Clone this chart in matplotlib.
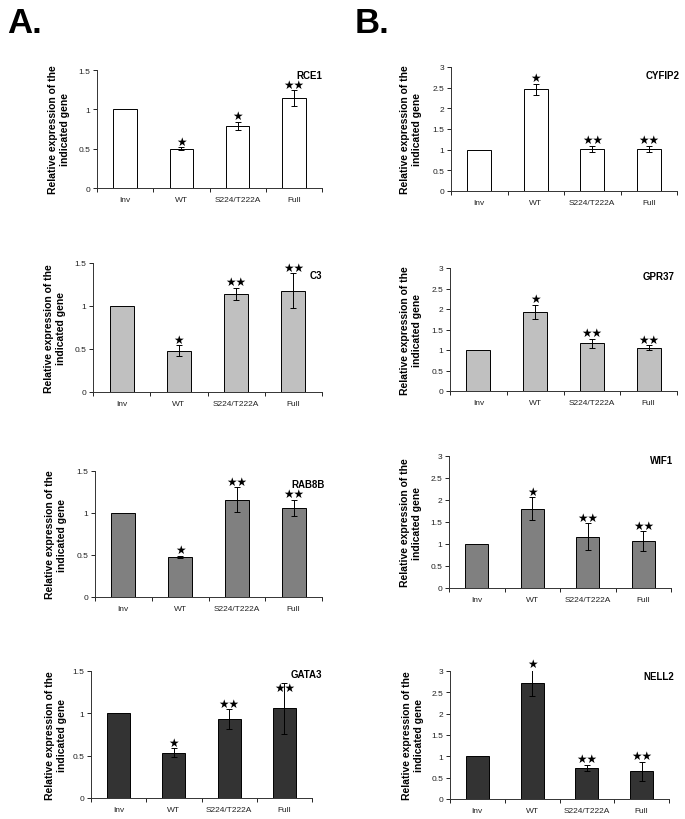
import matplotlib
matplotlib.use("Agg")
import matplotlib.pyplot as plt
from matplotlib.ticker import FixedLocator

plt.rcParams['font.family'] = ['Liberation Sans', 'DejaVu Sans']

categories = ["Inv", "WT", "S224/T222A", "Full"]

genes = ["RCE1", "C3", "RAB8B", "GATA3", "CYFIP2", "GPR37", "WIF1", "NELL2"]

rce1_vals = [1.0, 0.50, 0.79, 1.14]
rce1_err = [0, 0.02, 0.05, 0.10]
rce1_stars = [0, 1, 1, 2]
rce1_star_y = [None, None, None, None]

c3_vals = [1.0, 0.48, 1.14, 1.18]
c3_err = [0, 0.065, 0.07, 0.20]
c3_stars = [0, 1, 2, 2]
c3_star_y = [None, None, None, None]

rab8b_vals = [1.0, 0.48, 1.16, 1.06]
rab8b_err = [0, 0.01, 0.145, 0.10]
rab8b_stars = [0, 1, 2, 2]
rab8b_star_y = [None, None, None, None]

gata3_vals = [1.0, 0.535, 0.93, 1.06]
gata3_err = [0, 0.055, 0.12, 0.30]
gata3_stars = [0, 1, 2, 2]
gata3_star_y = [None, None, None, 1.23]

cyfip2_vals = [1.0, 2.46, 1.02, 1.02]
cyfip2_err = [0, 0.13, 0.08, 0.08]
cyfip2_stars = [0, 1, 2, 2]
cyfip2_star_y = [None, None, None, None]

gpr37_vals = [1.0, 1.93, 1.16, 1.06]
gpr37_err = [0, 0.17, 0.12, 0.06]
gpr37_stars = [0, 1, 2, 2]
gpr37_star_y = [None, None, None, None]

wif1_vals = [1.0, 1.80, 1.17, 1.07]
wif1_err = [0, 0.26, 0.30, 0.22]
wif1_stars = [0, 1, 2, 2]
wif1_star_y = [None, None, None, None]

nell2_vals = [1.0, 2.73, 0.73, 0.65]
nell2_err = [0, 0.31, 0.07, 0.22]
nell2_stars = [0, 1, 2, 2]
nell2_star_y = [None, None, None, None]

yticks_a = [0, 0.5, 1, 1.5]
yticklabels_a = ["0", "0.5", "1", "1.5"]
yticks_b = [0, 0.5, 1, 1.5, 2, 2.5, 3]
yticklabels_b = ["0", "0.5", "1", "1.5", "2", "2.5", "3"]

ylabel_text = "Relative expression of the\nindicated gene"

W, H = 685, 820
fig = plt.figure(figsize=(W / 100, H / 100), dpi=100)

row_colors = ["#ffffff", "#c0c0c0", "#808080", "#333333"]

panels = [
    ("RCE1", rce1_vals, rce1_err, rce1_stars, rce1_star_y, yticks_a, yticklabels_a, (97, 322, 71, 189), (309, 76), 59, row_colors[0]),
    ("C3", c3_vals, c3_err, c3_stars, c3_star_y, yticks_a, yticklabels_a, (93, 322, 264, 393), (316, 276), 55, row_colors[1]),
    ("RAB8B", rab8b_vals, rab8b_err, rab8b_stars, rab8b_star_y, yticks_a, yticklabels_a, (95, 322, 472, 598), (308, 485), 56, row_colors[2]),
    ("GATA3", gata3_vals, gata3_err, gata3_stars, gata3_star_y, yticks_a, yticklabels_a, (91, 312, 672, 799), (306, 675), 56, row_colors[3]),
    ("CYFIP2", cyfip2_vals, cyfip2_err, cyfip2_stars, cyfip2_star_y, yticks_b, yticklabels_b, (451, 677, 68, 192), (663, 76), 411, row_colors[0]),
    ("GPR37", gpr37_vals, gpr37_err, gpr37_stars, gpr37_star_y, yticks_b, yticklabels_b, (450, 677, 269, 392), (659, 277), 411, row_colors[1]),
    ("WIF1", wif1_vals, wif1_err, wif1_stars, wif1_star_y, yticks_b, yticklabels_b, (449, 671, 457, 589), (662, 461), 411, row_colors[2]),
    ("NELL2", nell2_vals, nell2_err, nell2_stars, nell2_star_y, yticks_b, yticklabels_b, (450, 669, 672, 800), (659, 677), 413, row_colors[3]),
]

for gene, vals, err, stars, star_y, ticks, tlabels, box, glab, ylx, color in panels:
    x0, x1, y0, y1 = box
    ax = fig.add_axes([x0 / W, 1 - y1 / H, (x1 - x0) / W, (y1 - y0) / H])
    xs = list(range(len(categories)))
    ax.bar(xs, vals, width=0.42, color=color, edgecolor="black", linewidth=0.7, zorder=2)
    for xi, v, e, s, sy in zip(xs, vals, err, stars, star_y):
        if e > 0:
            ax.errorbar(xi, v, yerr=e, fmt="none", ecolor="black", elinewidth=0.7,
                        capsize=2.5, capthick=0.7, zorder=3)
        if s > 0:
            base = v + e if sy is None else sy
            ax.annotate("★" * s, xy=(xi, base), xytext=(0, -0.3), textcoords="offset points",
                        ha="center", va="bottom", fontsize=8.5,
                        family=["DejaVu Sans"], zorder=4, annotation_clip=False)
    ax.set_xlim(-0.5, len(categories) - 0.5)
    ax.set_ylim(ticks[0], ticks[-1])
    ax.yaxis.set_major_locator(FixedLocator(ticks))
    ax.set_yticklabels(tlabels, fontsize=6, color="#222222")
    ax.xaxis.set_major_locator(FixedLocator([i - 0.5 for i in range(len(categories) + 1)]))
    ax.xaxis.set_minor_locator(FixedLocator(xs))
    ax.set_xticklabels([])
    ax.set_xticklabels(categories, minor=True, fontsize=6, color="#222222")
    ax.tick_params(axis="x", which="minor", length=0, pad=6)
    ax.tick_params(axis="x", which="major", length=3, width=0.6, direction="out")
    ax.tick_params(axis="y", length=3, width=0.6, direction="out", pad=2)
    for sp in ["top", "right"]:
        ax.spines[sp].set_visible(False)
    for sp in ["left", "bottom"]:
        ax.spines[sp].set_linewidth(0.7)
        ax.spines[sp].set_color("#333333")
    ax.set_facecolor("none")
    fig.text(glab[0] / W, 1 - glab[1] / H, gene, ha="center", va="center",
             fontsize=7, fontweight="bold")
    fig.text(ylx / W, 1 - ((y0 + y1) / 2) / H, ylabel_text, rotation=90,
             ha="center", va="center", fontsize=7.5, fontweight="bold",
             linespacing=1.3, multialignment="center")

fig.text(7 / W, 1 - 33 / H, "A.", fontsize=25, fontweight="bold", ha="left", va="baseline")
fig.text(355 / W, 1 - 33 / H, "B.", fontsize=25, fontweight="bold", ha="left", va="baseline")

fig.savefig("out.png", dpi=100)
